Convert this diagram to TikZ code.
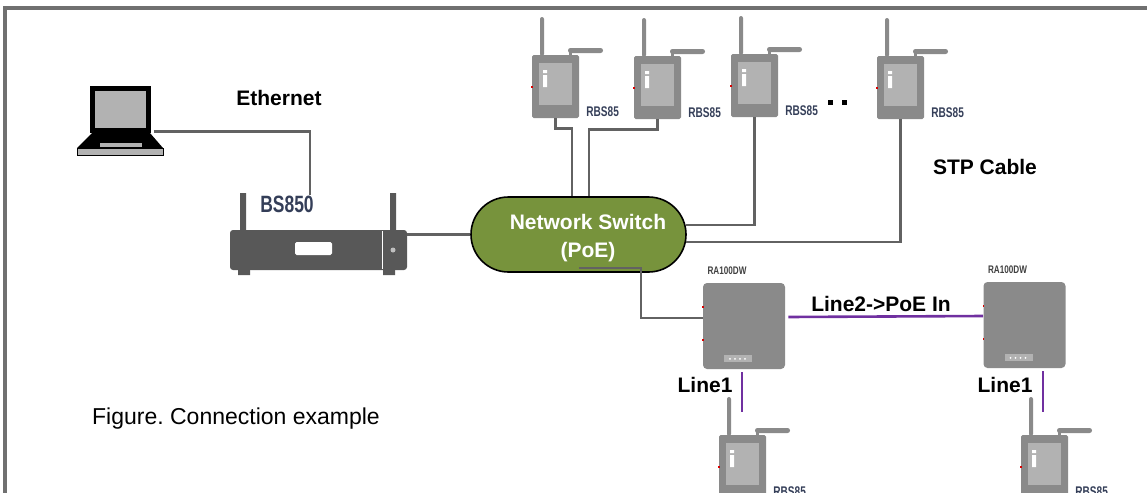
\documentclass[tikz,border=0pt]{standalone}
\usepackage{fontspec}
\setmainfont{Liberation Sans}
\usetikzlibrary{calc,positioning,shapes.misc}

\definecolor{framegray}{RGB}{112,112,112}
\definecolor{cablegray}{RGB}{98,98,98}
\definecolor{poepurple}{RGB}{112,48,160}
\definecolor{swgreen}{RGB}{119,147,60}
\definecolor{devgray}{RGB}{138,138,138}
\definecolor{scrgray}{RGB}{178,178,178}
\definecolor{bsgray}{RGB}{88,88,88}
\definecolor{lblblue}{RGB}{52,62,88}

\tikzset{
  rbs/.pic={
    % antennas, then case with screen
    \fill[devgray,rounded corners=1pt] (8,-38) rectangle (12,1);
    \fill[devgray] (37,-4) rectangle (40,1);
    \fill[devgray,rounded corners=1.2pt] (36,-7) rectangle (71,-2);
    \node[rbsbody] (-body) at (23.5,31.5) {};
    \fill[scrgray] (7,8) rectangle (40,50);
    \fill[white] (11,15) rectangle (15,18) (11,20) rectangle (15,32);
    \fill[red!85!black] (-1,31) rectangle (.5,33);
    \node[anchor=west,inner sep=0pt,text=lblblue,font=\bfseries\fontsize{7}{8}\selectfont]
      at (54,57) {\scalebox{.72}[1]{RBS85}};
  }
}

\begin{document}
\begin{tikzpicture}[x=.5pt,y=-.5pt,
  cable/.style={draw=cablegray,line width=1.1pt},
  poe/.style={draw=poepurple,line width=1.3pt},
  lbl/.style={inner sep=0pt,font=\bfseries\fontsize{10.5}{12}\selectfont},
  rbsbody/.style={rectangle,rounded corners=.8pt,fill=devgray,inner sep=0pt,
    minimum width=23.5pt,minimum height=31.5pt},
  ra/.style={rectangle,rounded corners=2pt,fill=devgray,inner sep=0pt,
    minimum width=41pt,minimum height=43pt},
  ralbl/.style={inner sep=0pt,text=black!75,font=\bfseries\fontsize{5.5}{6}\selectfont},
  bs/.style={rectangle,rounded corners=1.5pt,fill=bsgray,inner sep=0pt,
    minimum width=88.5pt,minimum height=20pt},
  switch/.style={rounded rectangle,fill=swgreen,draw=black,line width=.8pt,
    inner sep=0pt,minimum width=107.5pt,minimum height=37.5pt},
  swtext/.style={align=center,text=white,inner sep=0pt,
    font=\bfseries\fontsize{10.5}{14}\selectfont}]
\useasboundingbox (0,0) rectangle (1147,493);
\clip (0,0) rectangle (1147,493);
\draw[framegray,line width=2pt] (5,493) -- (5,8) -- (1147,8);

% laptop
\node[draw=black,fill=scrgray,line width=2.5pt,inner sep=0pt,
  minimum width=28pt,minimum height=21pt] (pc) at (120.5,109) {};
\fill (92,133) -- (150,133) -- (163,148) -- (77,148) -- cycle;
\fill[scrgray] (100,143) rectangle (142,147);
\filldraw[fill=scrgray,draw=black,line width=.5pt] (77,148) rectangle (163,155);

% BS850 base station
\fill[bsgray] (240,193) rectangle (246,232) (390,193) rectangle (396,232);
\node[bs] (bs) at (318.5,250) {};
\fill[bsgray] (238,268) rectangle (250,275) (383,268) rectangle (395,275);
\fill[white,rounded corners=.8pt] (295,242) rectangle (332,255);
\draw[white,line width=.4pt] (382,231) -- (382,269);
\fill[black!25] (393,250) circle (2.5);
\node[inner sep=0pt,text=lblblue,font=\bfseries\fontsize{11.8}{13}\selectfont] (bslbl)
  at (287,204) {\scalebox{.74}[1]{BS850}};

% switch
\node[switch] (sw) at (578.5,234.5) {};
\node[swtext] (swlbl) at (588,238) {Network Switch\\(PoE)};

% RBS85 units
\pic (r1) at (532,55) {rbs};
\pic (r2) at (634,56) {rbs};
\pic (r3) at (731,54) {rbs};
\pic (r4) at (877,56) {rbs};
\pic (r5) at (719,435) {rbs};
\pic (r6) at (1021,435) {rbs};
\foreach \x in {828,842} \fill (\x,100) rectangle ++(5,5);

% RA100DW units
\node[ra] (ra1) at (744,326) {};
\node[ra] (ra2) at (1024.5,325) {};
\foreach \r in {ra1,ra2} {
  \fill[scrgray] ($(\r.south)+(-20,-14)$) rectangle ($(\r.south)+(8,-7)$);
  \foreach \d in {-14,-9,-4,1} \fill[white] ($(\r.south)+(\d,-10.5)$) circle (1);
  \fill[red!85!black] ($(\r.west)+(-.5,-20)$) rectangle ($(\r.west)+(1,-18)$);
  \fill[red!85!black] ($(\r.west)+(-.5,13)$) rectangle ($(\r.west)+(1,15)$);
  \node[ralbl] at ($(\r.north)+(-17,-12)$) {\scalebox{.74}[1]{RA100DW}};
}

% cabling
\draw[cable] ($(pc.south east)+(2.5,-1)$) -| ($(bslbl.north east)+(-4,0)$);
\draw[cable] (bs.east |- sw.west) -- (sw.west);
\draw[cable] (r1-body.south) -- ++(0,10) -| ($(sw.north)+(-6.5,0)$);
\draw[cable] (r2-body.south) -- ++(0,10) -| ($(sw.north)+(10.5,0)$);
\draw[cable] (r3-body.south) |- (sw.5);
\draw[cable] (r4-body.south) |- (sw.-4);
\draw[cable] ($(sw.south)+(0,-5)$) -- ++(62.5,0) |- ($(ra1.west)+(0,-8)$);

\coordinate (l1a) at (742,412);
\coordinate (l1b) at (1043,412);
\draw[poe] ($(ra1.east)+(3,-9)$) -- ($(ra2.west)+(0,-9)$);
\draw[poe] ($(ra1.south -| l1a)+(0,3)$) -- (l1a);
\draw[poe] ($(ra2.south -| l1b)+(0,3)$) -- (l1b);

% labels
\node[lbl] (eth) at (279,98) {Ethernet};
\node[lbl] (stp) at (985,167) {STP Cable};
\node[lbl] (line2) at (881,304) {Line2->PoE In};
\node[lbl] (line1a) at (705,385) {Line1};
\node[lbl] (line1b) at (1005,385) {Line1};
\node[inner sep=0pt,font=\fontsize{11.5}{13}\selectfont] (cap) at (236,419)
  {Figure.\ Connection example};
\end{tikzpicture}
\end{document}
